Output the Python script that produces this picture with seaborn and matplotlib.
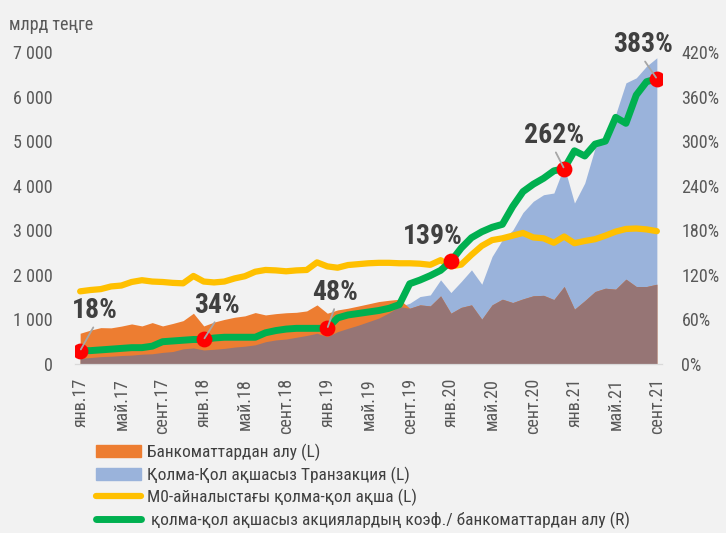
import numpy as np
import pandas as pd
import matplotlib
matplotlib.use('Agg')
import matplotlib.pyplot as plt
from matplotlib import font_manager
from matplotlib.patches import Patch
from matplotlib.lines import Line2D
import seaborn as sns

# помесячно: янв.17 ... сент.21 (57 месяцев)
atm = [690, 760, 816, 811, 850, 899, 854, 929, 854, 910, 973, 1139,
       854, 940, 1000, 1049, 1080, 1154, 1101, 1130, 1150, 1160, 1191, 1326,
       1139, 1213, 1251, 1300, 1350, 1401, 1430, 1453, 1251, 1326, 1303, 1528,
       1139, 1270, 1326, 1004, 1326, 1453, 1378, 1460, 1530, 1540, 1445, 1738,
       1228, 1420, 1625, 1700, 1678, 1903, 1738, 1738, 1790]
cashless = [127, 145, 165, 175, 190, 200, 220, 230, 260, 280, 340, 360,
            315, 330, 350, 380, 400, 430, 500, 540, 560, 600, 640, 689,
            614, 726, 800, 870, 950, 1030, 1150, 1288, 1363, 1513, 1550, 1888,
            1603, 1850, 2112, 1790, 2412, 2787, 3000, 3400, 3650, 3798, 3836, 4434,
            3611, 4060, 4847, 5034, 5600, 6308, 6420, 6682, 6870]
m0 = [1630, 1660, 1680, 1740, 1760, 1840, 1880, 1850, 1840, 1820, 1810, 1975,
      1850, 1830, 1850, 1920, 1970, 2070, 2110, 2100, 2080, 2100, 2110, 2280,
      2190, 2160, 2220, 2240, 2260, 2270, 2270, 2260, 2260, 2250, 2225, 2330,
      2190, 2230, 2450, 2650, 2780, 2820, 2880, 2940, 2840, 2820, 2720, 2860,
      2710, 2760, 2800, 2880, 2970, 3030, 3040, 3020, 2980]
ratio = [18, 18, 19, 20, 21, 22, 22, 24, 30, 31, 32, 33,
         33, 35, 36, 36, 36, 36, 42, 45, 47, 48, 48, 48,
         48, 62, 66, 68, 70, 72, 75, 80, 108, 113, 119, 126,
         138, 156, 170, 178, 184, 188, 212, 232, 242, 250, 260, 263,
         287, 280, 296, 300, 332, 324, 362, 380, 384]

tick_labels = ['янв.17', 'май.17', 'сент.17', 'янв.18', 'май.18', 'сент.18',
               'янв.19', 'май.19', 'сент.19', 'янв.20', 'май.20', 'сент.20',
               'янв.21', 'май.21', 'сент.21']
callout_idx = [0, 12, 24, 36, 47, 56]
callout_text = ['18%', '34%', '48%', '139%', '262%', '383%']

legend_labels = ['Банкоматтардан алу (L)',
                 'Қолма-Қол ақшасыз Транзакция (L)',
                 'М0-айналыстағы қолма-қол ақша (L)',
                 ' қолма-қол ақшасыз акциялардың коэф./ банкоматтардан алу (R)']

df = pd.DataFrame({'i': np.arange(len(atm)), 'atm': atm, 'cashless': cashless,
                   'm0': m0, 'ratio': ratio})

sns.set_style('white')
names = {f.name for f in font_manager.fontManager.ttflist}
if 'Roboto Condensed' in names:
    base = 'Roboto Condensed'
elif 'Liberation Sans Narrow' in names:
    base = 'Liberation Sans Narrow'
else:
    base = 'DejaVu Sans'
    plt.rcParams['font.stretch'] = 'condensed'
plt.rcParams['font.family'] = [base, 'DejaVu Sans']

bg = '#F2F2F2'
grey = '#595959'
orange, blue, brown = '#ED7D31', '#9AB3DB', '#967575'
yellow, green = '#FFC000', '#00B050'

fig = plt.figure(figsize=(7.26, 5.33), dpi=100, facecolor=bg)
ax = fig.add_axes([75 / 726, (533 - 364) / 533, 587 / 726, 312 / 533])
ax.set_facecolor(bg)

ax.fill_between(df['i'], 0, df['cashless'], color=blue, lw=0)
ax.fill_between(df['i'], 0, df['atm'], color=orange, lw=0)
ax.fill_between(df['i'], 0, np.minimum(df['atm'], df['cashless']), color=brown, lw=0)
sns.lineplot(data=df, x='i', y='m0', ax=ax, color=yellow, lw=4.5,
             solid_capstyle='round', solid_joinstyle='round')

ax2 = ax.twinx()
sns.lineplot(data=df, x='i', y='ratio', ax=ax2, color=green, lw=5,
             solid_capstyle='round', solid_joinstyle='round')
pts = df.loc[callout_idx]
ax2.scatter(pts['i'], pts['ratio'], s=130, color='#FF0000', zorder=5, lw=0)

offsets = [(15, 40), (13, 34), (8, 36), (-18, 25), (-10, 33), (-14, 34)]
for (i, r), txt, off in zip(pts[['i', 'ratio']].values, callout_text, offsets):
    arrow = None if txt == '139%' else dict(arrowstyle='-', color='#A6A6A6', lw=1.3,
                                           shrinkA=0, shrinkB=1, relpos=(0.5, 0))
    ax2.annotate(txt, (i, r), xytext=off, textcoords='offset pixels',
                 ha='center', va='center', fontsize=20, fontweight='bold',
                 color='#404040', arrowprops=arrow, zorder=6)

ax.set_xlim(-0.5, 56.5)
ax.set_ylim(0, 7000)
ax2.set_ylim(0, 420)
ax.set_xlabel('')
ax.set_ylabel('')
ax2.set_ylabel('')

ax.set_xticks(np.arange(0, 57, 4))
ax.set_xticklabels(tick_labels, rotation=90, fontsize=13, color=grey)
ax.set_xticks(np.arange(-0.5, 56, 4), minor=True)
ax.tick_params(axis='x', which='major', length=0, pad=10)
ax.tick_params(axis='x', which='minor', length=4, width=1, color='#D9D9D9')

yt = np.arange(0, 7001, 1000)
ax.set_yticks(yt)
ax.set_yticklabels([f'{v:,}'.replace(',', ' ') for v in yt], fontsize=13, color=grey)
ax.tick_params(axis='y', length=0, pad=16)
rt = np.arange(0, 421, 60)
ax2.set_yticks(rt)
ax2.set_yticklabels([f'{v}%' for v in rt], fontsize=13, color=grey)
ax2.tick_params(axis='y', length=0, pad=14)

for a in (ax, ax2):
    for s in ('left', 'right', 'top'):
        a.spines[s].set_visible(False)
    a.spines['bottom'].set_color('#D9D9D9')

fig.text(9 / 726, 1 - 25 / 533, 'млрд теңге', fontsize=13, color=grey, va='center')

handles = [Patch(color=orange), Patch(color=blue),
           Line2D([], [], color=yellow, lw=4.5, solid_capstyle='round'),
           Line2D([], [], color=green, lw=5, solid_capstyle='round')]
fig.legend(handles, legend_labels, loc='upper left', bbox_to_anchor=(96 / 726, 1 - 444 / 533),
           frameon=False, fontsize=12.5, handlelength=2.6, handletextpad=0.35,
           labelspacing=0.3, borderpad=0, borderaxespad=0, labelcolor='#404040')

fig.savefig('out.png', dpi=100, facecolor=bg)
